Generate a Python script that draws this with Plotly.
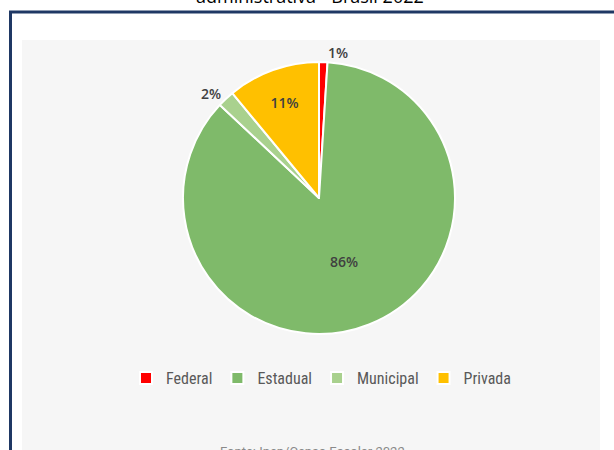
import plotly.graph_objects as go

categories = ["Federal", "Estadual", "Municipal", "Privada"]
values = [1, 86, 2, 11]
colors = ["#ff0000", "#7fba6a", "#a9d18e", "#ffc000"]
text_positions = ["outside", "inside", "outside", "inside"]

W, H = 614, 450
def px(x):
    return x / W
def py(y):
    return 1 - y / H

fig = go.Figure()
fig.add_trace(go.Pie(
    labels=categories,
    values=values,
    sort=False,
    direction="clockwise",
    rotation=0,
    marker=dict(colors=colors, line=dict(color="white", width=2)),
    texttemplate="%{percent:.0%}",
    textposition=text_positions,
    textfont=dict(family="Open Sans", size=14, color="#404040", weight=600),
    insidetextorientation="horizontal",
    domain=dict(x=[px(183), px(455)], y=[py(334), py(62)]),
    hoverinfo="label+percent",
))

fig.update_layout(
    width=W, height=H,
    margin=dict(l=0, r=0, t=0, b=0),
    paper_bgcolor="white",
    plot_bgcolor="white",
    showlegend=True,
    legend=dict(
        orientation="h",
        x=px(321), xanchor="center",
        y=py(361), yanchor="top",
        font=dict(family="Liberation Sans Narrow, Roboto Condensed, Roboto", size=16, color="#595959"),
        itemwidth=30,
        tracegroupgap=0,
        bgcolor="rgba(0,0,0,0)",
    ),
    shapes=[
        dict(type="rect", xref="paper", yref="paper",
             x0=px(22), x1=px(600), y0=py(452), y1=py(40),
             fillcolor="#f6f6f6", line=dict(width=0), layer="below"),
        dict(type="rect", xref="paper", yref="paper",
             x0=px(10.5), x1=px(640), y0=py(470), y1=py(12),
             fillcolor="rgba(0,0,0,0)", line=dict(color="#1f3864", width=3), layer="above"),
    ],
    annotations=[
        dict(text="administrativa - Brasil 2022", xref="paper", yref="paper",
             x=px(310), y=py(10), xanchor="center", yanchor="bottom",
             showarrow=False, font=dict(family="Open Sans", size=18, color="#000000")),
        dict(text="Fonte: Inep/Censo Escolar 2022", xref="paper", yref="paper",
             x=px(312), y=py(442), xanchor="center", yanchor="top",
             showarrow=False, font=dict(family="Roboto", size=13, color="#8a8a8a")),
    ],
)

fig.write_html("out.html", config={"displayModeBar": False},
               post_script="document.body.style.margin='0';")
